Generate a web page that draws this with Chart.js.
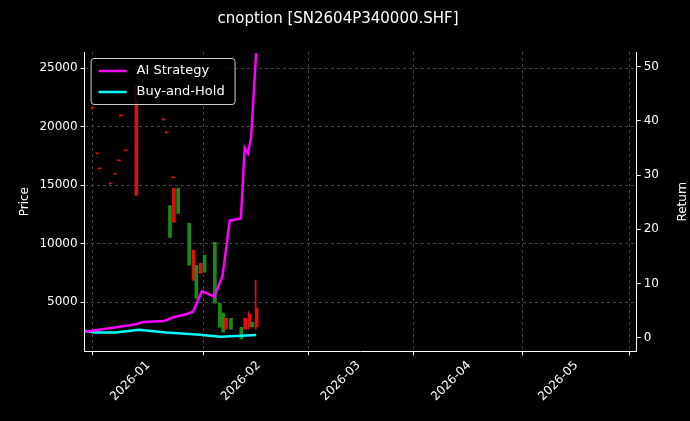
<!DOCTYPE html><html><head><script src="https://cdn.jsdelivr.net/npm/chart.js@4"></script>
<style>body{margin:0;background:#000}#w{width:690px;height:421px}</style></head><body><div id="w"><canvas id="c"></canvas></div>
<script>
// days since 2026-01-01
const candleDays=[-15.7,-14.3,-13.7,-10.6,-9.4,-8.3,-7.7,-6.3,-3.4,4.3,5.1,6,6.9,7.1,8.3,11.4,12.6,13.4,14.6,15.7,18.6,20,20.9,21.7,23.1,26,27.1,28.3,29.1,30.3];
const opens =[21600,17740,16450,15160,16000,17150,20980,18000,22260,20640,19530,10530,15680,14740,12590,8160,9450,5340,8330,7570,4920,2870,2440,3640,2700,1870,3640,4000,2900,4500];
const closes=[21550,17700,16400,15120,15950,17100,20940,17960,14140,20600,19490,13250,15640,11840,14740,11750,6890,8160,7480,9020,10130,4920,4070,2700,3640,2870,2700,2900,3300,2900];
const highs =[21650,17780,16490,15200,16040,17190,21020,18040,23500,20680,19570,13250,15720,14740,14740,11750,9450,8160,8330,9020,10130,4920,4070,3640,3640,2870,3640,4200,3300,6890];
const lows  =[21500,17660,16360,15080,15910,17060,20900,17920,14140,20560,19450,10530,15600,11840,12590,8160,6890,5340,7480,7570,4920,2870,2440,2700,2700,1870,2700,2700,2900,2700];
const aiDays=[-17.8,-9.4,-3.4,-1.4,4.6,7.1,10.9,12.6,15.1,18.6,20.9,22.9,26,27.1,28,28.9,30.3];
const aiRet =[1.1,1.9,2.5,2.9,3.1,3.8,4.4,4.8,8.6,7.6,11.5,21.6,22,35,34,37,52.5];
const bhDays=[-17.8,-15,-9.1,-2.6,5.1,13.7,20.3,30.3];
const bhRet =[1.3,1.0,1.0,1.5,1.0,0.6,0.2,0.5];
const monthTicks=[0,31,59,90,120];
const monthLabels=['2026-01','2026-02','2026-03','2026-04','2026-05'];

const up=candleDays.map((d,i)=>closes[i]>=opens[i]);
const col=up.map(u=>u?'#1a8a1a':'#e01010');
const legendPlugin={id:'lg',afterDraw(ch){const a=ch.chartArea,c=ch.ctx;const x=a.left+6,y=a.top+6;
c.save();c.fillStyle='rgba(0,0,0,0.8)';c.strokeStyle='#ccc';c.lineWidth=1;
c.beginPath();c.roundRect(x+.5,y+.5,144,46,3);c.fill();c.stroke();
c.font='13px "DejaVu Sans"';c.textBaseline='middle';
[['AI Strategy','#ff00ff'],['Buy-and-Hold','#00ffff']].forEach((l,i)=>{const yy=y+13+i*21;c.strokeStyle=l[1];c.lineWidth=2.5;c.beginPath();c.moveTo(x+8,yy);c.lineTo(x+36,yy);c.stroke();c.fillStyle='#fff';c.fillText(l[0],x+46,yy);});
c.restore();}};
const rightTitle={id:'rt',afterDraw(ch){const a=ch.chartArea,c=ch.ctx;c.save();c.translate(a.right+46,(a.top+a.bottom)/2);c.rotate(-Math.PI/2);
c.fillStyle='#fff';c.font='12px "DejaVu Sans"';c.textAlign='center';c.textBaseline='middle';c.fillText('Return',0,0);c.restore();}};
const gridCommon={color:'#444',tickColor:'#fff',tickLength:4};
new Chart(document.getElementById('c'),{
data:{datasets:[
{type:'bar',data:candleDays.map((d,i)=>({x:d,y:[lows[i],highs[i]]})),backgroundColor:col,barThickness:1,yAxisID:'y',order:3},
{type:'bar',data:candleDays.map((d,i)=>({x:d,y:[opens[i],closes[i]===opens[i]?opens[i]+40:closes[i]]})),backgroundColor:col,barThickness:2,yAxisID:'y',order:3},
{type:'line',data:aiDays.map((d,i)=>({x:d,y:aiRet[i]})),borderColor:'#ff00ff',borderWidth:2.5,pointRadius:0,yAxisID:'y1',order:1},
{type:'line',data:bhDays.map((d,i)=>({x:d,y:bhRet[i]})),borderColor:'#00ffff',borderWidth:2.5,pointRadius:0,yAxisID:'y1',order:2}
]},
options:{responsive:true,maintainAspectRatio:false,animation:false,
layout:{padding:{left:14,right:28,top:0,bottom:14}},
plugins:{legend:{display:false},tooltip:{enabled:false},
title:{display:true,text:'cnoption [SN2604P340000.SHF]',color:'#fff',font:{family:'DejaVu Sans',size:15,weight:'normal'},padding:{top:10,bottom:24}}},
scales:{
x:{type:'linear',min:-17.8,max:137,offset:false,
afterBuildTicks(s){s.ticks=monthTicks.map(v=>({value:v}));},
ticks:{color:'#fff',font:{family:'DejaVu Sans',size:12},maxRotation:45,minRotation:45,callback:(v)=>monthLabels[monthTicks.indexOf(v)]},
grid:gridCommon,border:{color:'#fff',dash:[3,3]}},
y:{position:'left',min:810,max:26370,afterBuildTicks(s){s.ticks=[5000,10000,15000,20000,25000].map(v=>({value:v}));},
ticks:{color:'#fff',font:{family:'DejaVu Sans',size:12},callback:v=>v},
title:{display:true,text:'Price',color:'#fff',font:{family:'DejaVu Sans',size:12}},
grid:gridCommon,border:{color:'#fff',dash:[3,3]}},
y1:{position:'right',min:-2.5,max:52.7,afterBuildTicks(s){s.ticks=[0,10,20,30,40,50].map(v=>({value:v}));},
ticks:{color:'#fff',font:{family:'DejaVu Sans',size:12}},
grid:{drawOnChartArea:false,tickColor:'#fff',tickLength:4},border:{color:'#fff'}}
}},plugins:[legendPlugin,rightTitle]});
</script></body></html>
